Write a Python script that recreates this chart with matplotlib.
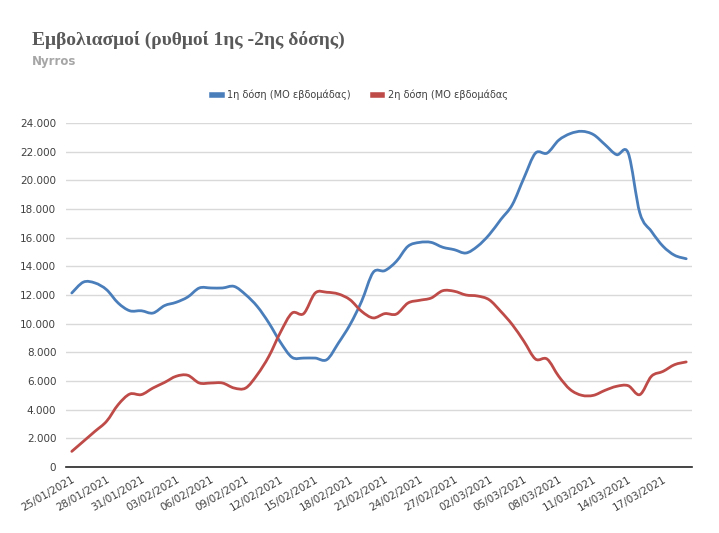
import numpy as np
import pandas as pd
import matplotlib
matplotlib.use('Agg')
import matplotlib.pyplot as plt
from matplotlib.path import Path
from matplotlib.patches import PathPatch
from matplotlib.ticker import FuncFormatter

# Δεδομένα (ημερήσιος κινητός μέσος όρος εβδομάδας)
dates = pd.date_range('2021-01-25', periods=54, freq='D')
dose1 = [12140, 12900, 12840, 12370, 11440, 10900, 10900, 10740, 11260, 11490,
         11860, 12490, 12490, 12490, 12600, 12020, 11200, 10050, 8700, 7650,
         7600, 7600, 7490, 8650, 9930, 11560, 13580, 13700, 14350, 15400,
         15670, 15670, 15330, 15160, 14930, 15400, 16200, 17260, 18300, 20160,
         21900, 21900, 22800, 23260, 23420, 23190, 22490, 21790, 21900, 17720,
         16440, 15400, 14770, 14530]
dose2 = [1090, 1790, 2490, 3190, 4350, 5090, 5050, 5510, 5900, 6330,
         6400, 5860, 5860, 5860, 5510, 5510, 6440, 7720, 9400, 10740,
         10700, 12140, 12190, 12070, 11670, 10860, 10400, 10700, 10670, 11440,
         11630, 11790, 12300, 12260, 12000, 11930, 11670, 10860, 9930, 8770,
         7530, 7530, 6330, 5400, 5000, 5000, 5350, 5630, 5670, 5050,
         6330, 6670, 7140, 7330]
labels = ['1η δόση (ΜΟ εβδομάδας)', '2η δόση (ΜΟ εβδομάδας']
colors = ['#4A7EBB', '#BE4B48']

fig = plt.figure(figsize=(7.19, 5.33), dpi=100)
ax = fig.add_axes([66 / 719, 66 / 533, 626 / 719, 344 / 533])


def smooth_path(x, y):
    # καμπύλη Bezier μέσα από τα σημεία (όπως η ομαλή γραμμή του Excel)
    x = np.asarray(x, float)
    y = np.asarray(y, float)
    verts = [(x[0], y[0])]
    codes = [Path.MOVETO]
    n = len(x)
    for i in range(n - 1):
        p0 = i - 1 if i > 0 else i
        p3 = i + 2 if i + 2 < n else i + 1
        c1 = (x[i] + (x[i + 1] - x[p0]) / 6, y[i] + (y[i + 1] - y[p0]) / 6)
        c2 = (x[i + 1] - (x[p3] - x[i]) / 6, y[i + 1] - (y[p3] - y[i]) / 6)
        verts += [c1, c2, (x[i + 1], y[i + 1])]
        codes += [Path.CURVE4] * 3
    return Path(verts, codes)


xs = np.arange(len(dates))
for vals, col, lab in zip([dose1, dose2], colors, labels):
    ax.add_patch(PathPatch(smooth_path(xs, vals), fill=False, edgecolor=col,
                           lw=2.0, capstyle='round', joinstyle='round', zorder=3))
    ax.plot([], [], color=col, lw=4, label=lab)

ax.set_xlim(-0.5, len(dates) - 0.5)
ax.set_ylim(0, 24000)
ax.set_yticks(np.arange(0, 24001, 2000))
ax.yaxis.set_major_formatter(FuncFormatter(lambda v, p: f'{int(v):,}'.replace(',', '.')))
ticks = xs[::3]
ax.set_xticks(ticks)
ax.set_xticklabels([dates[i].strftime('%d/%m/%Y') for i in ticks], rotation=30,
                   ha='right', va='top', rotation_mode='anchor')

ax.grid(axis='y', color='#D9D9D9', lw=1)
ax.set_axisbelow(True)
for s in ['top', 'right', 'left']:
    ax.spines[s].set_visible(False)
ax.spines['bottom'].set_color('#262626')
ax.spines['bottom'].set_linewidth(1.2)
ax.tick_params(length=0, labelsize=7.5, labelcolor='#404040', pad=7)
ax.tick_params(axis='x', pad=5)

fig.text(32 / 719, 1 - 40 / 533, 'Εμβολιασμοί (ρυθμοί 1ης -2ης δόσης)',
         family='Liberation Serif', weight='bold', fontsize=14, color='#595959',
         ha='left', va='center')
fig.text(32 / 719, 1 - 61 / 533, 'Nyrros', weight='bold', fontsize=8.5,
         color='#A6A6A6', ha='left', va='center')
fig.legend(loc='center', bbox_to_anchor=(360 / 719, 1 - 95 / 533), ncol=2,
           frameon=False, fontsize=7, handlelength=1.0, handletextpad=0.6,
           columnspacing=2.2, labelcolor='#404040')

fig.savefig('out.png', dpi=100)
